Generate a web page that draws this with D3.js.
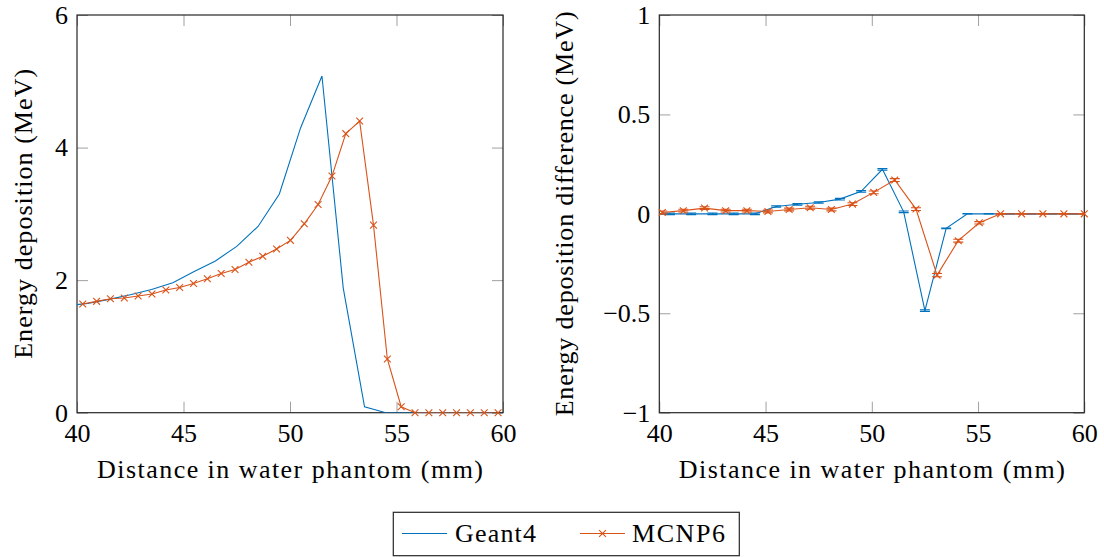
<!DOCTYPE html>
<html>
<head>
<meta charset="utf-8">
<script src="https://cdn.jsdelivr.net/npm/d3@7"></script>
<style>
body { margin: 0; background: #fff; }
svg text { font-family: "Liberation Serif", "DejaVu Serif", "Times New Roman", Times, serif; fill: #000; }
</style>
</head>
<body>
<svg id="chart" width="1104" height="557"></svg>
<script>
// values
const geantX = [39.5, 40.5, 41.5, 42.5, 43.5, 44.5, 45.5, 46.5, 47.5, 48.5, 49.5,
                50.5, 51.5, 52.5, 53.5, 54.5, 55.5, 56.5, 57.5, 58.5, 59.5];
const geantDep = [1.61, 1.65, 1.71, 1.78, 1.86, 1.96, 2.13, 2.29, 2.51, 2.81, 3.30,
                  4.30, 5.08, 1.88, 0.09, 0.0, 0, 0, 0, 0, 0];
const mcnpX = [40.27, 40.92, 41.57, 42.22, 42.87, 43.52, 44.17, 44.82, 45.47, 46.12,
               46.77, 47.42, 48.07, 48.72, 49.37, 50.02, 50.67, 51.32, 51.97, 52.62,
               53.27, 53.92, 54.57, 55.22, 55.87, 56.52, 57.17, 57.82, 58.47, 59.12, 59.77];
const mcnpDep = [1.64, 1.68, 1.72, 1.73, 1.76, 1.79, 1.85, 1.89, 1.95, 2.02,
                 2.10, 2.16, 2.27, 2.36, 2.47, 2.60, 2.85, 3.14, 3.57, 4.21,
                 4.40, 2.83, 0.81, 0.09, 0, 0, 0, 0, 0, 0, 0];

const geantDiff = [0, 0, 0, 0, 0, 0, 0.037, 0.048, 0.057, 0.074, 0.113,
                   0.224, 0.01, -0.487, -0.073, 0, 0, 0, 0, 0, 0];
const geantDiffErr = [0.004, 0.004, 0.004, 0.004, 0.004, 0.004, 0.004, 0.004, 0.004, 0.004, 0.004,
                      0.004, 0.004, 0.004, 0.002, 0.001, 0.001, 0.001, 0.001, 0.001, 0.001];
const mcnpDiffX = [40.14, 41.13, 42.13, 43.12, 44.12, 45.11, 46.11, 47.10, 48.10, 49.09,
                   50.09, 51.08, 52.08, 53.07, 54.07, 55.06, 56.06, 57.05, 58.05, 59.04, 60.0];
const mcnpDiff = [0.007, 0.016, 0.029, 0.016, 0.016, 0.012, 0.022, 0.031, 0.022, 0.049,
                  0.108, 0.17, 0.024, -0.308, -0.135, -0.045, 0, 0, 0, 0, 0];
const mcnpDiffErr = [0.007, 0.007, 0.007, 0.007, 0.007, 0.007, 0.007, 0.007, 0.007, 0.007,
                     0.007, 0.007, 0.007, 0.008, 0.007, 0.006, 0.002, 0.002, 0.002, 0.002, 0.002];

const xTicks = [40, 45, 50, 55, 60];
const depTicks = [0, 2, 4, 6];
const diffTicks = [-1, -0.5, 0, 0.5, 1];
const seriesNames = ["Geant4", "MCNP6"];

const blue = "#0072bd";
const orange = "#d95319";
const fontSize = 26;

const svg = d3.select("#chart");
const plotTop = 15, plotBottom = 412.7;

function panel(id, left, right, yDomain, yTicks, yLabel, yLabelX, yLabelLen) {
  const x = d3.scaleLinear().domain([40, 60]).range([left, right]);
  const y = d3.scaleLinear().domain(yDomain).range([plotBottom, plotTop]);
  const g = svg.append("g");

  g.append("clipPath").attr("id", id)
    .append("rect").attr("x", left).attr("y", plotTop)
    .attr("width", right - left).attr("height", plotBottom - plotTop);

  const fmt = d => d3.format("")(d);
  // inward ticks on all four sides
  const axB = g.append("g").attr("transform", `translate(0,${plotBottom})`)
    .call(d3.axisBottom(x).tickValues(xTicks).tickSize(-11).tickPadding(11).tickFormat(fmt));
  const axT = g.append("g").attr("transform", `translate(0,${plotTop})`)
    .call(d3.axisTop(x).tickValues(xTicks).tickSize(-11).tickFormat(""));
  const axL = g.append("g").attr("transform", `translate(${left},0)`)
    .call(d3.axisLeft(y).tickValues(yTicks).tickSize(-11).tickPadding(9).tickFormat(fmt));
  const axR = g.append("g").attr("transform", `translate(${right},0)`)
    .call(d3.axisRight(y).tickValues(yTicks).tickSize(-11).tickFormat(""));
  [axB, axT, axL, axR].forEach(a => {
    a.attr("font-family", null).attr("font-size", null);
    a.select(".domain").remove();
    a.selectAll(".tick line").attr("stroke", "#a0a0a0").attr("stroke-width", 1);
    a.selectAll("text").style("font-size", fontSize + "px");
  });
  axB.selectAll("text").attr("dy", "0.71em");

  g.append("rect").attr("x", left).attr("y", plotTop)
    .attr("width", right - left).attr("height", plotBottom - plotTop)
    .attr("fill", "none").attr("stroke", "#262626").attr("stroke-width", 1.2);

  g.append("text").attr("x", (left + right) / 2).attr("y", 478)
    .attr("text-anchor", "middle").style("font-size", fontSize + "px")
    .attr("textLength", 386).attr("lengthAdjust", "spacing")
    .text("Distance in water phantom (mm)");
  g.append("text")
    .attr("transform", `translate(${yLabelX},${(plotTop + plotBottom) / 2}) rotate(-90)`)
    .attr("text-anchor", "middle").style("font-size", fontSize + "px")
    .attr("textLength", yLabelLen).attr("lengthAdjust", "spacing")
    .text(yLabel);

  return { g, x, y, id };
}

function drawLine(p, xs, ys, color) {
  const line = d3.line().x(d => p.x(d[0])).y(d => p.y(d[1]));
  p.g.append("path").datum(d3.zip(xs, ys))
    .attr("clip-path", `url(#${p.id})`)
    .attr("fill", "none").attr("stroke", color).attr("stroke-width", 1.1)
    .attr("d", line);
}

function drawCrosses(p, xs, ys, color) {
  const r = 3.4;
  p.g.append("g").selectAll("path").data(d3.zip(xs, ys)).join("path")
    .attr("transform", d => `translate(${p.x(d[0])},${p.y(d[1])})`)
    .attr("d", `M${-r},${-r}L${r},${r}M${-r},${r}L${r},${-r}`)
    .attr("stroke", color).attr("stroke-width", 1.1).attr("fill", "none");
}

function drawErrors(p, xs, ys, errs, color) {
  const w = 5;
  const eg = p.g.append("g").attr("clip-path", `url(#${p.id})`)
    .attr("stroke", color).attr("stroke-width", 1.1).attr("fill", "none");
  eg.selectAll("path").data(d3.zip(xs, ys, errs)).join("path")
    .attr("d", d => {
      const cx = p.x(d[0]), y0 = p.y(d[1] - d[2]), y1 = p.y(d[1] + d[2]);
      return `M${cx},${y0}L${cx},${y1}M${cx - w},${y0}L${cx + w},${y0}M${cx - w},${y1}L${cx + w},${y1}`;
    });
}

// left: energy deposition
const pL = panel("clipL", 77, 503, [0, 6], depTicks, "Energy deposition (MeV)", 32, 290);
drawLine(pL, geantX, geantDep, blue);
drawLine(pL, mcnpX, mcnpDep, orange);
drawCrosses(pL, mcnpX, mcnpDep, orange);

// right: energy deposition difference
const pR = panel("clipR", 659.3, 1084.3, [-1, 1], diffTicks, "Energy deposition difference (MeV)", 573, 405);
drawLine(pR, geantX, geantDiff, blue);
drawErrors(pR, geantX, geantDiff, geantDiffErr, blue);
drawLine(pR, mcnpDiffX, mcnpDiff, orange);
drawErrors(pR, mcnpDiffX, mcnpDiff, mcnpDiffErr, orange);
drawCrosses(pR, mcnpDiffX, mcnpDiff, orange);

// legend
const lg = svg.append("g");
lg.append("rect").attr("x", 393.3).attr("y", 512.3).attr("width", 346).attr("height", 43.4)
  .attr("fill", "#fff").attr("stroke", "#262626").attr("stroke-width", 1.2);
const legendItems = [
  { name: seriesNames[0], color: blue, x0: 402, tx: 455, len: 81, mark: false },
  { name: seriesNames[1], color: orange, x0: 580, tx: 632, len: 93, mark: true }
];
legendItems.forEach(it => {
  lg.append("line").attr("x1", it.x0).attr("x2", it.x0 + 45)
    .attr("y1", 533.5).attr("y2", 533.5).attr("stroke", it.color).attr("stroke-width", 1.1);
  if (it.mark) {
    const cx = it.x0 + 22.5, r = 3.4;
    lg.append("path").attr("d", `M${cx - r},${533.5 - r}L${cx + r},${533.5 + r}M${cx - r},${533.5 + r}L${cx + r},${533.5 - r}`)
      .attr("stroke", it.color).attr("stroke-width", 1.1);
  }
  lg.append("text").attr("x", it.tx).attr("y", 542).style("font-size", fontSize + "px")
    .attr("textLength", it.len).attr("lengthAdjust", "spacing").text(it.name);
});
</script>
</body>
</html>
